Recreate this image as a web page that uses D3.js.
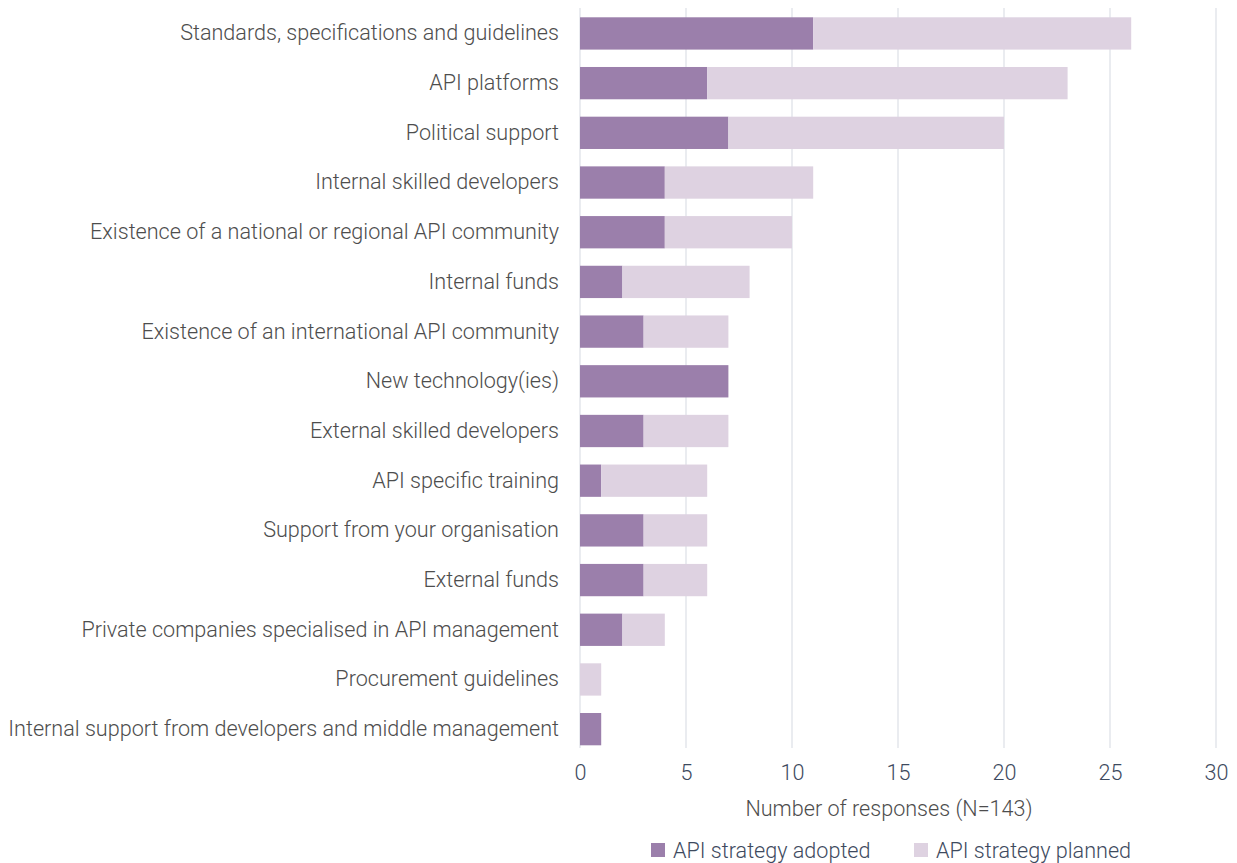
<!DOCTYPE html>
<html>
<head>
<meta charset="utf-8">
<script src="https://cdn.jsdelivr.net/npm/d3@7"></script>
<style>
  html, body { margin: 0; padding: 0; background: #fff; }
  svg { display: block; font-family: Roboto, "Open Sans", sans-serif; font-weight: 300; }
</style>
</head>
<body>
<svg id="chart" width="1237" height="863"></svg>
<script>
// Enablers of an API strategy, by adoption status
const categories = [
  "Standards, specifications and guidelines",
  "API platforms",
  "Political support",
  "Internal skilled developers",
  "Existence of a national or regional API community",
  "Internal funds",
  "Existence of an international API community",
  "New technology(ies)",
  "External skilled developers",
  "API specific training",
  "Support from your organisation",
  "External funds",
  "Private companies specialised in API management",
  "Procurement guidelines",
  "Internal support from developers and middle management"
];
const adopted = [11, 6, 7, 4, 4, 2, 3, 7, 3, 1, 3, 3, 2, 0, 1];
const planned = [15, 17, 13, 7, 6, 6, 4, 0, 4, 5, 3, 3, 2, 1, 0];
const seriesNames = ["API strategy adopted", "API strategy planned"];
const xTicks = [0, 5, 10, 15, 20, 25, 30];
const axisTitle = "Number of responses (N=143)";

const colors = ["#9b7fab", "#ded2e1"];
const fontSize = 21.6;
const svg = d3.select("#chart");

const x = d3.scaleLinear().domain([0, 30]).range([580, 1216]);
const y = d3.scaleBand().domain(categories).range([8.6, 754]).paddingInner(0.35).paddingOuter(0.175);

const rows = categories.map((c, i) => ({ cat: c, adopted: adopted[i], planned: planned[i] }));
const stack = d3.stack().keys(["adopted", "planned"])(rows);

// vertical gridlines
svg.append("g")
  .selectAll("line")
  .data(xTicks)
  .join("line")
  .attr("x1", d => x(d)).attr("x2", d => x(d))
  .attr("y1", 8).attr("y2", 748)
  .attr("stroke", "#e3e6eb")
  .attr("stroke-width", 1.5);

// stacked bars
svg.append("g")
  .selectAll("g")
  .data(stack)
  .join("g")
  .attr("fill", (d, i) => colors[i])
  .selectAll("rect")
  .data(d => d)
  .join("rect")
  .attr("x", d => x(d[0]))
  .attr("y", d => y(d.data.cat))
  .attr("width", d => x(d[1]) - x(d[0]))
  .attr("height", y.bandwidth());

// category labels
const yAxis = svg.append("g")
  .attr("transform", "translate(559,0)")
  .call(d3.axisLeft(y).tickSize(0).tickPadding(0));
yAxis.select(".domain").remove();
yAxis.selectAll("text")
  .attr("font-family", "Roboto, sans-serif")
  .attr("font-weight", 300)
  .attr("font-size", fontSize)
  .attr("fill", "#4d4d4d");

// value axis tick labels
const xAxis = svg.append("g")
  .attr("transform", "translate(0,765)")
  .call(d3.axisBottom(x).tickValues(xTicks).tickSize(0).tickPadding(0));
xAxis.select(".domain").remove();
xAxis.selectAll("text")
  .attr("font-family", "Roboto, sans-serif")
  .attr("font-weight", 300)
  .attr("font-size", fontSize)
  .attr("fill", "#3e4a5e");

svg.append("text")
  .attr("x", 889).attr("y", 816)
  .attr("text-anchor", "middle")
  .attr("font-size", fontSize)
  .attr("fill", "#4d4d4d")
  .text(axisTitle);

// legend
const legendX = [651, 914];
const legend = svg.append("g")
  .selectAll("g")
  .data(seriesNames)
  .join("g")
  .attr("transform", (d, i) => `translate(${legendX[i]},843)`);
legend.append("rect")
  .attr("width", 14).attr("height", 14)
  .attr("fill", (d, i) => colors[i]);
legend.append("text")
  .attr("x", 22).attr("y", 15)
  .attr("font-size", fontSize)
  .attr("fill", "#3e4a5e")
  .text(d => d);
</script>
</body>
</html>
